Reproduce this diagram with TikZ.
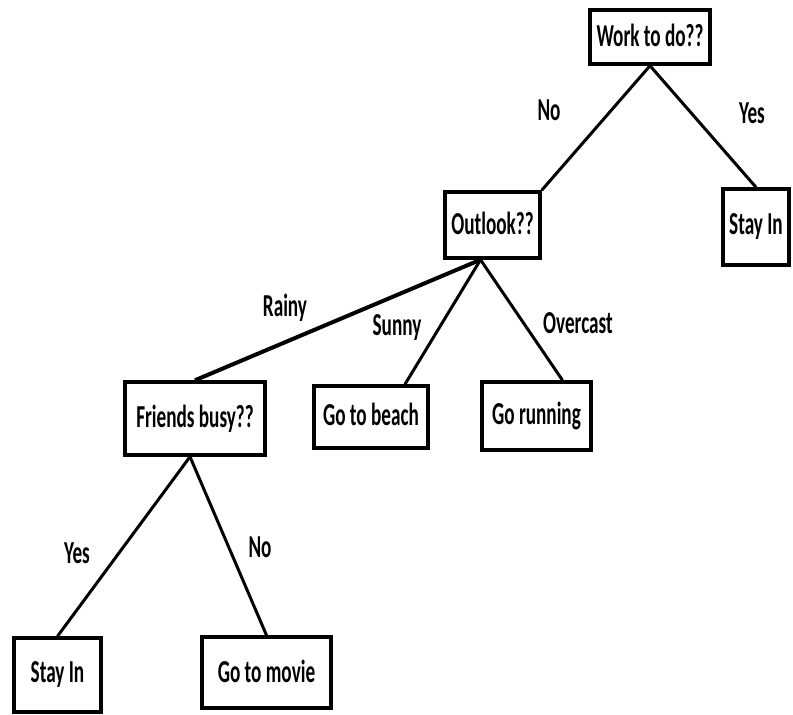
\documentclass[tikz,border=0pt]{standalone}
\usepackage{fontspec}
\setmainfont[FakeStretch=0.6]{Carlito}
\usepackage{tikz}
\usetikzlibrary{positioning,calc}

\begin{document}
\begin{tikzpicture}[x=1pt, y=-1pt,
    choice/.style={draw, line width=3.5pt, rectangle, inner sep=0pt, align=center, font=\fontsize{32}{38}\selectfont\bfseries},
    branch/.style={line width=3pt},
    lbl/.style={inner sep=0pt, font=\fontsize{32}{38}\selectfont\bfseries}]
    \useasboundingbox (0,0) rectangle (793,715);

    % decision boxes
    \node [choice, minimum width=120pt, minimum height=54pt] (work) at (650,37) {\raisebox{3pt}{Work to do??}};
    \node [choice, minimum width=66pt, minimum height=76pt] (stayA) at (756,227) {\raisebox{5pt}{Stay In}};
    \node [choice, minimum width=95pt, minimum height=66pt] (outlook) at (492.5,225) {\raisebox{3pt}{Outlook??}};
    \node [choice, minimum width=140pt, minimum height=73pt] (friends) at (195,418.5) {\raisebox{5pt}{Friends busy??}};
    \node [choice, minimum width=114pt, minimum height=62pt] (beach) at (371,417) {\raisebox{5pt}{Go to beach}};
    \node [choice, minimum width=109pt, minimum height=68pt] (running) at (536.5,416) {\raisebox{4pt}{Go running}};
    \node [choice, minimum width=87pt, minimum height=74pt] (stayB) at (57.5,675) {\raisebox{5pt}{Stay In}};
    \node [choice, minimum width=129pt, minimum height=71pt] (movie) at (266.5,672.5) {\raisebox{3pt}{Go to movie}};

    % branches
    \draw [branch] (work.south) -- (outlook.north east);
    \draw [branch] (work.south) -- (stayA.north);
    \draw [branch, line width=4pt] ([xshift=-12pt]outlook.south) -- (friends.north);
    \draw [branch] ([xshift=-12pt]outlook.south) -- ([xshift=34pt]beach.north);
    \draw [branch] ([xshift=-12pt]outlook.south) -- ([xshift=26pt]running.north);
    \draw [branch] ([xshift=-5pt]friends.south) -- (stayB.north);
    \draw [branch] ([xshift=-5pt]friends.south) -- (movie.north);

    % branch labels
    \node [lbl] (noA) at (549,110) {No};
    \node [lbl] (yesA) at (752,113) {Yes};
    \node [lbl] (rainy) at (285,308) {Rainy};
    \node [lbl] (sunny) at (397,328) {Sunny};
    \node [lbl] (overcast) at (578,323) {Overcast};
    \node [lbl] (yesB) at (77,553) {Yes};
    \node [lbl] (noB) at (260,547) {No};
\end{tikzpicture}
\end{document}
